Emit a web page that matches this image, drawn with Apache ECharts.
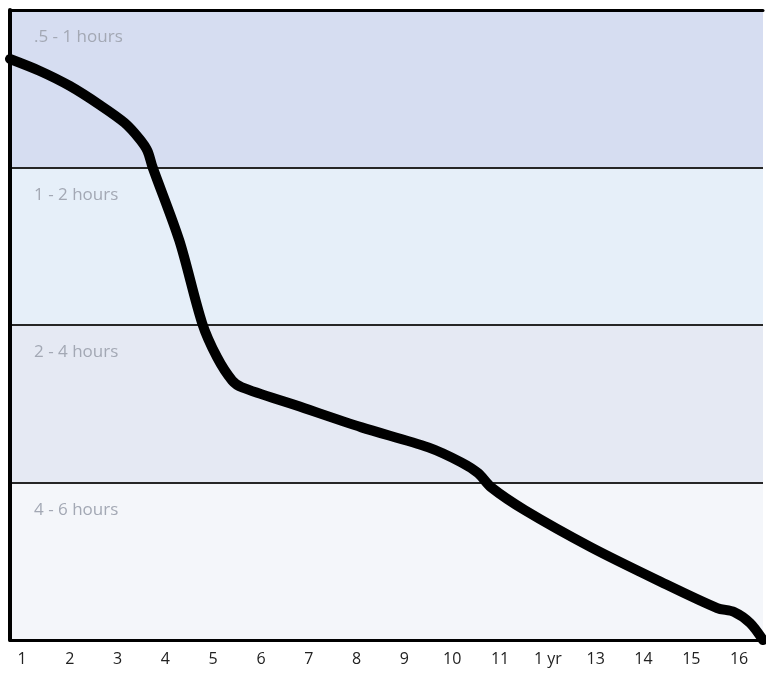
<!DOCTYPE html>
<html>
<head>
<meta charset="utf-8">
<script src="https://cdn.jsdelivr.net/npm/echarts@6/dist/echarts.min.js"></script>
<style>
html,body{margin:0;padding:0;background:#fff;}
#chart{width:766px;height:673px;}
</style>
</head>
<body>
<div id="chart"></div>
<script>
const xLabels = ['1','2','3','4','5','6','7','8','9','10','11','1 yr','13','14','15','16'];
const bandLabels = ['.5 - 1 hours','1 - 2 hours','2 - 4 hours','4 - 6 hours'];
const bandColors = ['#d6ddf1','#e6eff9','#e5e9f3','#f4f6fa'];
const bandEdges = [1, 2, 3];
const curveX = [0.75,1.375,2.0,2.625,3.146,3.458,3.625,3.729,4.292,4.771,5.083,5.396,5.604,6.729,8.104,9.5,10.188,10.542,10.813,11.521,12.896,14.292,15.542,15.896,16.229,16.5];
const curveY = [0.311,0.387,0.482,0.602,0.716,0.818,0.894,0.995,1.464,1.990,2.206,2.352,2.396,2.510,2.650,2.777,2.872,2.941,3.030,3.176,3.410,3.620,3.797,3.822,3.892,4.0];

const chart = echarts.init(document.getElementById('chart'));
const font = '"Open Sans", "Noto Sans", sans-serif';
const areas = bandLabels.map((name, i) => [
  {yAxis: i, name: name, itemStyle: {color: bandColors[i]}},
  {yAxis: i + 1}
]);
chart.setOption({
  animation: false,
  backgroundColor: '#ffffff',
  grid: {left: 10, right: 0, top: 10, bottom: 33},
  xAxis: [{
    type: 'value', min: 0.75, max: 16.5, interval: 0.25, z: 10,
    axisLine: {show: true, onZero: false, lineStyle: {color: '#000', width: 3}},
    axisTick: {show: false},
    splitLine: {show: false},
    axisLabel: {
      color: '#222', fontSize: 16, fontFamily: font, margin: 11,
      formatter: v => (Math.abs(v - Math.round(v)) < 1e-6 && v >= 1 && v <= 16) ? xLabels[Math.round(v) - 1] : ''
    }
  }, {
    type: 'value', position: 'top', min: 0.75, max: 16.5, z: 10,
    axisLine: {show: true, onZero: false, lineStyle: {color: '#000', width: 3}},
    axisTick: {show: false}, axisLabel: {show: false}, splitLine: {show: false}
  }],
  yAxis: {
    type: 'value', min: 0, max: 4, interval: 1, inverse: true, z: 10,
    axisLine: {show: true, onZero: false, lineStyle: {color: '#000', width: 4}},
    axisTick: {show: false},
    axisLabel: {show: false},
    splitLine: {show: false}
  },
  series: [{
    type: 'line',
    data: curveX.map((x, i) => [x, curveY[i]]),
    smooth: 0.3,
    symbol: 'none',
    lineStyle: {color: '#000', width: 10, cap: 'round', join: 'round'},
    z: 5,
    markArea: {
      silent: true,
      label: {
        show: true, position: 'insideTopLeft', distance: 0, offset: [24, 19],
        color: '#a3a8b4', fontSize: 17, fontFamily: font
      },
      data: areas
    },
    markLine: {
      silent: true, symbol: 'none', animation: false,
      label: {show: false},
      lineStyle: {color: '#262626', width: 2, type: 'solid'},
      data: bandEdges.map(v => ({yAxis: v}))
    }
  }]
});
</script>
</body>
</html>
